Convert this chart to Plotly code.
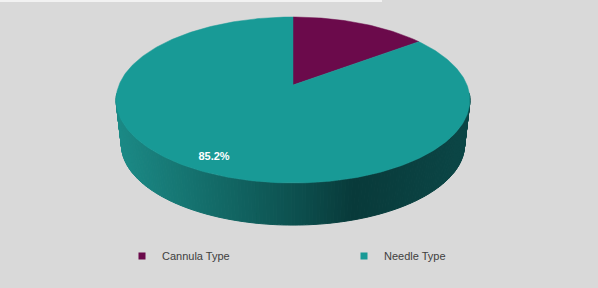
import numpy as np
import plotly.graph_objects as go

# ---- data ----
labels = ["Cannula Type", "Needle Type"]
values = [14.8, 85.2]
colors = ["#6B0A4B", "#189A96"]
show_label = [False, True]

# ---- 3D pie geometry (pixel-like axes) ----
W, H = 598, 288
CX, CY = 293.0, 85.0
A, B, K = 174.0, 80.3, 0.1807
DEPTH, S = 45.0, 0.97


def proj(t, r=1.0, bottom=False):
    u = r * np.sin(t)
    v = r * np.cos(t)
    w = 1 + K * v
    s = S if bottom else 1.0
    dy = DEPTH if bottom else 0.0
    return CX + s * A * u / w, CY + dy - s * B * v / w


def lerp_color(f):
    stops = [(0.0, (27, 138, 134)), (0.3, (18, 104, 101)), (0.52, (12, 78, 77)),
             (0.67, (8, 58, 58)), (1.0, (11, 70, 70))]
    f = min(max(f, 0.0), 1.0)
    for (f0, c0), (f1, c1) in zip(stops[:-1], stops[1:]):
        if f0 <= f <= f1:
            a = (f - f0) / (f1 - f0) if f1 > f0 else 0
            c = [round(c0[i] + (c1[i] - c0[i]) * a) for i in range(3)]
            return "rgb(%d,%d,%d)" % tuple(c)
    return "rgb(%d,%d,%d)" % stops[-1][1]


fig = go.Figure()

# side of the needle slice (front face), shaded strips
t_edges = np.radians(np.linspace(96, 264, 170))
for t0, t1 in zip(t_edges[:-1], t_edges[1:]):
    x0, y0 = proj(t0)
    x1, y1 = proj(t1)
    x2, y2 = proj(t1, bottom=True)
    x3, y3 = proj(t0, bottom=True)
    f = ((x0 + x1) / 2 - 116) / (470 - 116)
    col = lerp_color(f)
    fig.add_trace(go.Scatter(x=[x0, x1, x2, x3, x0], y=[y0, y1, y2, y3, y0],
                             mode="lines", fill="toself", fillcolor=col,
                             line=dict(color=col, width=1), showlegend=False,
                             hoverinfo="skip"))

# top faces of the slices
total = sum(values)
start = 0.0
mids = []
for lab, val, col in zip(labels, values, colors):
    a0 = start / total * 2 * np.pi
    a1 = (start + val) / total * 2 * np.pi
    ts = np.linspace(a0, a1, max(int(val * 4), 8))
    xs, ys = proj(ts)
    px = np.concatenate([[CX], xs, [CX]])
    py = np.concatenate([[CY], ys, [CY]])
    fig.add_trace(go.Scatter(x=px, y=py, mode="lines", fill="toself", fillcolor=col,
                             line=dict(color=col, width=0.5), showlegend=False,
                             hoverinfo="skip"))
    mids.append((a0 + a1) / 2)
    start += val

# data label(s)
lx, ly, lt = [], [], []
for val, m, sh in zip(values, mids, show_label):
    if sh:
        x, y = proj(m, r=0.87)
        lx.append(x)
        ly.append(y)
        lt.append(f"{val / total * 100:.1f}%")
fig.add_trace(go.Scatter(x=lx, y=ly, mode="text", text=lt,
                         textfont=dict(family="Liberation Sans", size=11, color="white"),
                         texttemplate="<b>%{text}</b>", showlegend=False, hoverinfo="skip"))

# legend entries
for lab, col in zip(labels, colors):
    fig.add_trace(go.Scatter(x=[None], y=[None], mode="markers", name=lab,
                             marker=dict(symbol="square", size=7, color=col)))

fig.add_shape(type="line", xref="paper", yref="paper", x0=0, x1=382 / W, y0=1 - 1 / H,
              y1=1 - 1 / H, line=dict(color="#F2F2F2", width=2))

fig.update_layout(
    width=W, height=H, margin=dict(l=0, r=0, t=0, b=0),
    paper_bgcolor="#D9D9D9", plot_bgcolor="#D9D9D9",
    xaxis=dict(range=[0, W], visible=False, fixedrange=True),
    yaxis=dict(range=[H, 0], visible=False, fixedrange=True),
    showlegend=True,
    legend=dict(orientation="h", x=(162 - 40) / W, xanchor="left",
                y=1 - 256 / H, yanchor="middle",
                font=dict(family="Liberation Sans", size=11, color="#404040"),
                entrywidth=177, entrywidthmode="pixels",
                bgcolor="rgba(0,0,0,0)", itemclick=False),
)

fig.write_html("out.html")
